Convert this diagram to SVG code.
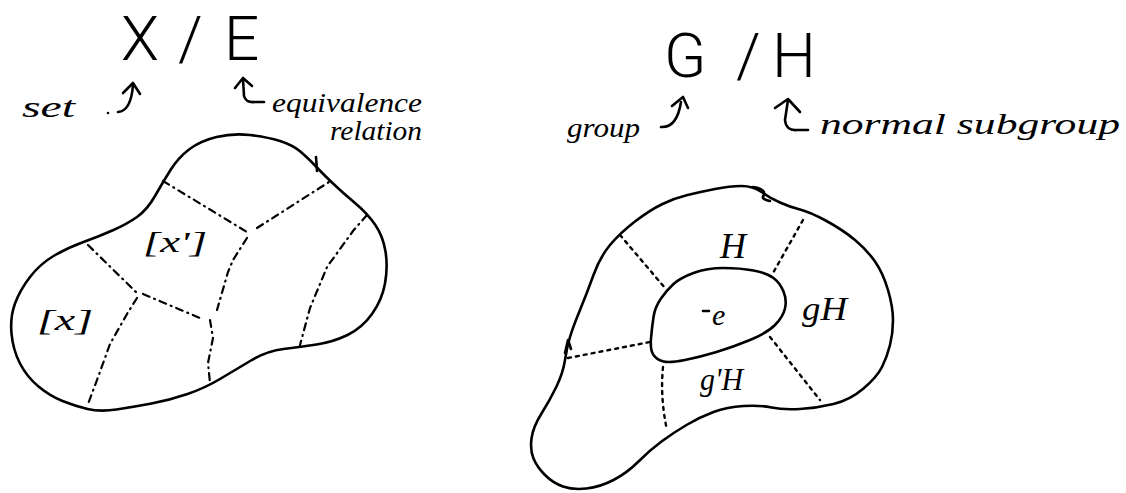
<svg xmlns="http://www.w3.org/2000/svg" width="1126" height="493" viewBox="0 0 1126 493">
<style>
.ink{fill:none;stroke:#000;stroke-width:2.6;stroke-linecap:round;stroke-linejoin:round}
.dashdot{fill:none;stroke:#000;stroke-width:2.2;stroke-linecap:round;stroke-dasharray:7 5 1 5}
.dots{fill:none;stroke:#000;stroke-width:2.4;stroke-linecap:round;stroke-dasharray:3 5}
.head{font-family:"Roboto","Liberation Sans",sans-serif;font-weight:300;font-size:62px;fill:#000}
.hand{font-family:"Liberation Serif","DejaVu Serif",serif;font-style:italic;fill:#000}
</style>
<rect width="1126" height="493" fill="#fff"/>

<g id="heading-left">
<text class="head" x="121 164 178 210 224" y="60">X / E</text>
<text class="hand" x="22" y="117" font-size="30" textLength="53" lengthAdjust="spacingAndGlyphs">set</text>
<text class="hand" x="272" y="112" font-size="28" textLength="150" lengthAdjust="spacingAndGlyphs">equivalence</text>
<text class="hand" x="330" y="140" font-size="28" textLength="92" lengthAdjust="spacingAndGlyphs">relation</text>
</g>

<g id="heading-right">
<text class="head" x="664 712 736 760 772" y="77">G / H</text>
<text class="hand" x="567" y="137" font-size="28" textLength="73" lengthAdjust="spacingAndGlyphs">group</text>
<text class="hand" x="820" y="134" font-size="30" textLength="300" lengthAdjust="spacingAndGlyphs">normal subgroup</text>
</g>

<g id="blob-left">
<path class="ink" d="M250,135 Q267,137 280,141 Q293,145 301.5,152.5 Q310,160 316.5,167 Q323,174 333,183.5 Q343,193 355,203 Q367,213 375,224.5 Q383,236 385.5,251.5 Q388,267 385,283.5 Q382,300 372,314 Q362,328 347.5,335 Q333,342 316.5,344.5 Q300,347 283.5,349 Q267,351 251,360.5 Q235,370 220,379 Q205,388 187.5,394 Q170,400 151.5,403.5 Q133,407 116.5,409.5 Q100,412 87.5,409 Q75,406 62.5,401 Q50,396 38.5,386.5 Q27,377 20,363.5 Q13,350 11.5,333.5 Q10,317 15,303.5 Q20,290 30,277 Q40,264 53.5,256 Q67,248 83.5,242 Q100,236 113.5,230 Q127,224 137,217 Q147,210 155,196 Q163,182 170.5,170 Q178,158 189,149.5 Q200,141 216.5,137 Q233,133 250,135 Z"/>
<path class="ink" d="M316,157 L317,171"/>
<path class="dashdot" d="M163,181 L247,232"/>
<path class="dashdot" d="M257,228 L329,182"/>
<path class="dashdot" d="M247,238 L233,260 L228,272 L217,310"/>
<path class="dashdot" d="M88,245 L137,293"/>
<path class="dashdot" d="M143,294 L200,318"/>
<path class="dashdot" d="M210,320 L213,338 L208,363 L210,383"/>
<path class="dashdot" d="M137,298 L127,314 L110,344 L97,380 L88,404"/>
<path class="dashdot" d="M367,215 L353,231 L327,267 L320,284 L310,308 L300,345"/>
<text class="hand" x="143" y="252" font-size="30" textLength="64" lengthAdjust="spacingAndGlyphs">[x']</text>
<text class="hand" x="37" y="330" font-size="30" textLength="56" lengthAdjust="spacingAndGlyphs">[x]</text>
</g>

<g id="blob-right">
<path class="ink" d="M687.5,195 Q700,192 715,189 Q730,186 741.5,186 Q753,186 761.5,192 Q770,198 780,202.5 Q790,207 800,209.5 Q810,212 826.5,221 Q843,230 855,240 Q867,250 875,261.5 Q883,273 888,290 Q893,307 893,320 Q893,333 890,345 Q887,357 882,367 Q877,377 863.5,388.5 Q850,400 833.5,404 Q817,408 800,409 Q783,410 771.5,407.5 Q760,405 743.5,406 Q727,407 713.5,412 Q700,417 686.5,425 Q673,433 661.5,441.5 Q650,450 638.5,461.5 Q627,473 613.5,480 Q600,487 586.5,488.5 Q573,490 563,486.5 Q553,483 545,475 Q537,467 533.5,458.5 Q530,450 531.5,438.5 Q533,427 541.5,413.5 Q550,400 556.5,386.5 Q563,373 565,360 Q567,347 570,337 Q573,327 580,310 Q587,293 593.5,275 Q600,257 610,245 Q620,233 635,221.5 Q650,210 662.5,204 Q675,198 687.5,195 Z"/>
<path class="ink" d="M753,187 Q766,189 764,195 Q760,199 770,201"/>
<path class="ink" d="M565,353 L568,340 L571,349"/>
</g>

<g id="coset-H">
<path class="ink" d="M673.5,284 Q680,278 693.5,273 Q707,268 723.5,268 Q740,268 753.5,270.5 Q767,273 773.5,278 Q780,283 783.5,291.5 Q787,300 785,308.5 Q783,317 775,325 Q767,333 750,340 Q733,347 716.5,352 Q700,357 685,360 Q670,363 663.5,361.5 Q657,360 653.5,355 Q650,350 651,338.5 Q652,327 653.5,317 Q655,307 661,298.5 Q667,290 673.5,284 Z"/>
<path class="ink" d="M703,311 L709,311"/>
<text class="hand" x="712" y="325" font-size="30">e</text>
<text class="hand" x="720" y="258" font-size="36">H</text>
<text class="hand" x="802" y="320" font-size="34" textLength="45" lengthAdjust="spacingAndGlyphs">gH</text>
<text class="hand" x="700" y="390" font-size="32" textLength="43" lengthAdjust="spacingAndGlyphs">g'H</text>
<path class="dots" d="M620,235 L665,288"/>
<path class="dots" d="M803,220 L773,273"/>
<path class="dots" d="M568,358 L650,342"/>
<path class="dots" d="M663,367 Q660,398 667,430"/>
<path class="dots" d="M770,337 L820,400"/>
</g>

<g id="connectors">
<circle cx="108" cy="113" r="1.3" fill="#000"/>
<path class="ink" d="M118,112 Q131,111 133,85"/>
<path class="ink" d="M123,93 L133,83 L140,94"/>
<path class="ink" d="M235,88 L243,78 L252,86"/>
<path class="ink" d="M243,79 L244,96 Q246,103 255,102 L264,102"/>
<path class="ink" d="M661,127 Q677,128 681,102"/>
<path class="ink" d="M672,106 L683,97 L688,108"/>
<path class="ink" d="M775,108 L788,99 L800,112"/>
<path class="ink" d="M788,100 L785,120 Q786,131 797,130 L808,130"/>
</g>
</svg>
